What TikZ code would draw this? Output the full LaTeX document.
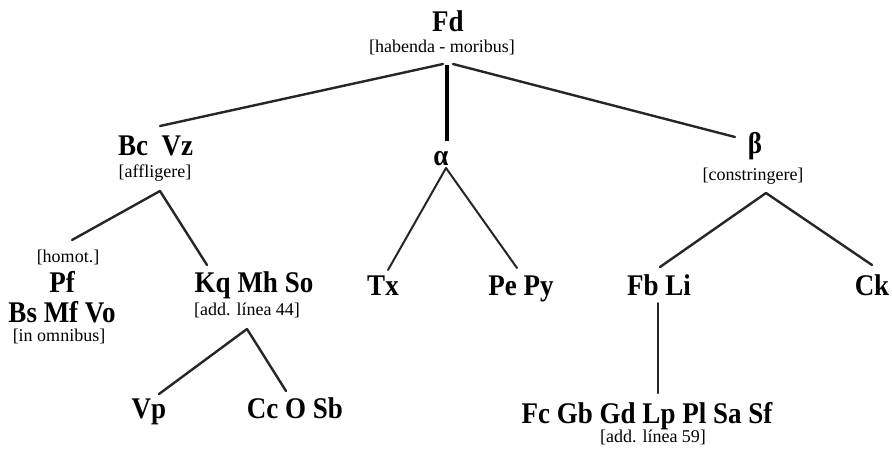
\documentclass[tikz,border=0pt]{standalone}
\usepackage{fontspec}
\setmainfont{Liberation Serif}
\newfontfamily\witfont[FakeStretch=0.9]{Liberation Serif}
\begin{document}
\begin{tikzpicture}[x=1pt,y=-1pt,
  wit/.style={anchor=base,inner sep=0pt,font=\witfont\fontsize{30}{32}\selectfont\bfseries},
  note/.style={anchor=base,inner sep=0pt,font=\fontsize{18}{20}\selectfont},
  edge/.style={line width=2.4pt,draw=black!85,line cap=round},
  thin/.style={line width=2pt,draw=black!85,line cap=round},
  thick/.style={line width=3.8pt,draw=black,line cap=butt}]
\useasboundingbox[fill=white] (0,0) rectangle (892,451);
% nodes
\node[wit] (fd) at (448,31) {Fd};
\node[note] (fdn) at (442,52) {[habenda - moribus]};
\node[wit] (bc) at (155.5,155) {Bc~~Vz};
\node[note] (bcn) at (155,177) {[affligere]};
\node[wit] (al) at (441,165) {α};
\node[wit] (be) at (755,153) {β};
\node[note] (ben) at (753,180) {[constringere]};
\node[note] (pfn) at (68,262) {[homot.]};
\node[wit] (pf) at (62,292) {Pf};
\node[wit] (bs) at (62,322) {Bs Mf Vo};
\node[note] (bsn) at (59,341) {[in omnibus]};
\node[wit] (kq) at (254,292) {Kq Mh So};
\node[note] (kqn) at (247,315) {[add. línea 44]};
\node[wit] (vp) at (149,418) {Vp};
\node[wit] (cc) at (295,418) {Cc O Sb};
\node[wit] (tx) at (383,295) {Tx};
\node[wit] (pe) at (521,295) {Pe Py};
\node[wit] (fb) at (659,295) {Fb Li};
\node[wit] (ck) at (872,295) {Ck};
\node[wit] (fc) at (647,423) {Fc Gb Gd Lp Pl Sa Sf};
\node[note] (fcn) at (653,442) {[add. línea 59]};
% connector points
\coordinate (fdl) at (443,64);
\coordinate (fdm) at (447,65);
\coordinate (fdr) at (453,64);
\coordinate (bct) at (160,126);
\coordinate (alt) at (447,141);
\coordinate (bet) at (735,137);
\coordinate (bca) at (160,191);
\coordinate (pft) at (72,240);
\coordinate (kqt) at (207,265);
\coordinate (kqa) at (247,329);
\coordinate (vpt) at (159,394);
\coordinate (cct) at (286,391);
\coordinate (ala) at (446,168);
\coordinate (txt) at (388,270);
\coordinate (pet) at (517,268);
\coordinate (bea) at (766,193);
\coordinate (fbt) at (660,267);
\coordinate (ckt) at (872,265);
\coordinate (fba) at (658,303);
\coordinate (fct) at (658,393);
% connectors
\draw[edge] (fdl) -- (bct);
\draw[thick] (fdm) -- (alt);
\draw[edge] (fdr) -- (bet);
\draw[edge] (bca) -- (pft);
\draw[edge] (bca) -- (kqt);
\draw[edge] (kqa) -- (vpt);
\draw[edge] (kqa) -- (cct);
\draw[thin] (ala) -- (txt);
\draw[thin] (ala) -- (pet);
\draw[edge] (bea) -- (fbt);
\draw[edge] (bea) -- (ckt);
\draw[thin] (fba) -- (fct);
\end{tikzpicture}
\end{document}
